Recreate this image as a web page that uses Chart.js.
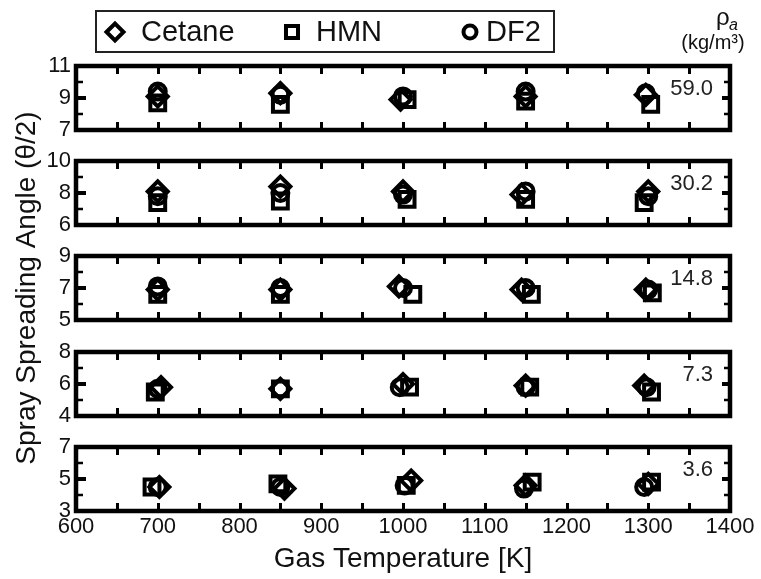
<!DOCTYPE html>
<html>
<head>
<meta charset="utf-8">
<script src="https://cdn.jsdelivr.net/npm/chart.js@4.4.1/dist/chart.umd.min.js"></script>
<style>
  html, body { margin: 0; padding: 0; background: #fff; }
  #wrap { position: relative; width: 761px; height: 579px; overflow: hidden; background: #fff; }
  #wrap canvas { position: absolute; left: 0; top: 0; }
</style>
</head>
<body>
<div id="wrap">
  <canvas id="panel0" width="761" height="579"></canvas>
  <canvas id="panel1" width="761" height="579"></canvas>
  <canvas id="panel2" width="761" height="579"></canvas>
  <canvas id="panel3" width="761" height="579"></canvas>
  <canvas id="panel4" width="761" height="579"></canvas>
</div>
<script>
// ---- data -------------------------------------------------------------
// ambient gas density for each panel, top to bottom (kg/m^3)
const densityLabels = ['59.0', '30.2', '14.8', '7.3', '3.6'];
const angleMin = [7, 6, 5, 4, 3];
const angleMax = [11, 10, 9, 8, 7];
const temperatureTicks = [600, 700, 800, 900, 1000, 1100, 1200, 1300, 1400];
const temperatureMarks = [650, 700, 750, 800, 850, 900, 950, 1000, 1050, 1100, 1150, 1200, 1250, 1300, 1350];

// Cetane
const cetaneTemp = [
  [700, 850, 997, 1150, 1297],
  [700, 850, 1000, 1145, 1300],
  [700, 850, 995, 1145, 1297],
  [704, 850, 1000, 1150, 1295],
  [702, 855, 1010, 1150, 1300]
];
const cetaneAngle = [
  [9.1, 9.3, 8.9, 9.1, 9.2],
  [8.1, 8.4, 8.1, 7.9, 8.1],
  [6.9, 6.9, 7.1, 6.9, 6.9],
  [5.8, 5.7, 6.0, 5.9, 5.9],
  [4.5, 4.4, 4.9, 4.6, 4.7]
];
// HMN
const hmnTemp = [
  [700, 850, 1005, 1150, 1303],
  [700, 850, 1005, 1150, 1295],
  [700, 850, 1012, 1157, 1305],
  [697, 850, 1008, 1155, 1304],
  [693, 847, 1004, 1158, 1304]
];
const hmnAngle = [
  [8.7, 8.6, 8.9, 8.8, 8.6],
  [7.4, 7.5, 7.6, 7.6, 7.4],
  [6.6, 6.6, 6.6, 6.6, 6.7],
  [5.5, 5.7, 5.8, 5.8, 5.5],
  [4.5, 4.7, 4.6, 4.8, 4.8]
];
// DF2
const df2Temp = [
  [700, 850, 1000, 1150, 1297],
  [700, 850, 1000, 1150, 1300],
  [700, 850, 1000, 1150, 1300],
  [700, 850, 996, 1150, 1298],
  [700, 850, 1002, 1148, 1295]
];
const df2Angle = [
  [9.4, 9.2, 9.1, 9.4, 9.3],
  [7.8, 8.0, 7.9, 8.1, 7.8],
  [7.1, 7.0, 7.0, 7.0, 6.9],
  [5.7, 5.7, 5.8, 5.8, 5.8],
  [4.5, 4.5, 4.6, 4.4, 4.5]
];

// ---- layout -----------------------------------------------------------
const W = 761, H = 579;
const PLOT_LEFT = 76, PLOT_RIGHT = 730;
const panelTop = [66, 161, 256, 352, 447];
const PANEL_H = 64;
const FONT = "'Liberation Sans', Arial, Helvetica, sans-serif";
const INK = '#111';

const seriesStyle = [
  { label: 'Cetane', pointStyle: 'rectRot', radius: 10, legendRadius: 8.5 },
  { label: 'HMN', pointStyle: 'rect', radius: 10.5, legendRadius: 8.5 },
  { label: 'DF2', pointStyle: 'circle', radius: 8, legendRadius: 6.5 }
];

function points(xs, ys) {
  return xs.map((x, i) => ({ x: x, y: ys[i] }));
}

// frame, inward tick marks, density tag, and (top panel) legend + unit header
const panelDecor = {
  id: 'panelDecor',
  afterDatasetsDraw(chart, args, opts) {
    const { ctx, chartArea: a, scales: { x, y } } = chart;
    ctx.save();
    ctx.strokeStyle = '#000';
    ctx.lineCap = 'butt';

    // x tick marks, top and bottom, pointing inward
    ctx.lineWidth = 3;
    ctx.beginPath();
    temperatureMarks.forEach(v => {
      const px = Math.round(x.getPixelForValue(v)) + 0.5;
      ctx.moveTo(px, a.top); ctx.lineTo(px, a.top + 8);
      ctx.moveTo(px, a.bottom); ctx.lineTo(px, a.bottom - 8);
    });
    ctx.stroke();

    // y tick marks
    const mid = (y.min + y.max) / 2;
    const yMarks = [y.min + 1, mid, y.max - 1];
    yMarks.forEach(v => {
      const py = Math.round(y.getPixelForValue(v));
      const major = v === mid;
      ctx.lineWidth = major ? 4 : 2.5;
      ctx.beginPath();
      ctx.moveTo(a.left, py); ctx.lineTo(a.left + (major ? 10 : 7), py);
      ctx.moveTo(a.right, py); ctx.lineTo(a.right - (major ? 8 : 6), py);
      ctx.stroke();
    });

    // frame
    ctx.lineWidth = 4.5;
    ctx.strokeRect(a.left, a.top, a.right - a.left, a.bottom - a.top);

    // density tag
    ctx.fillStyle = '#222';
    ctx.font = '22px ' + FONT;
    ctx.textAlign = 'right';
    ctx.textBaseline = 'middle';
    ctx.fillText(opts.tag, a.right - 17, a.top + (a.bottom - a.top) * 0.36);

    if (opts.header) {
      // legend box
      ctx.lineWidth = 2;
      ctx.strokeStyle = '#222';
      ctx.strokeRect(96, 11, 458, 41);
      const items = [
        { mx: 115, tx: 141 },
        { mx: 292, tx: 316 },
        { mx: 470, tx: 486 }
      ];
      chart.data.datasets.forEach((ds, i) => {
        ctx.strokeStyle = '#000';
        ctx.fillStyle = 'rgba(0,0,0,0)';
        ctx.lineWidth = 4;
        Chart.helpers.drawPoint(ctx, {
          pointStyle: ds.pointStyle, rotation: 0,
          radius: seriesStyle[i].legendRadius, borderWidth: 4
        }, items[i].mx, 32);
        ctx.fillStyle = INK;
        ctx.font = '29px ' + FONT;
        ctx.textAlign = 'left';
        ctx.textBaseline = 'middle';
        ctx.fillText(ds.label, items[i].tx, 33);
      });

      // density unit header
      ctx.fillStyle = INK;
      ctx.textAlign = 'left';
      ctx.textBaseline = 'alphabetic';
      ctx.font = '24px ' + FONT;
      ctx.fillText('ρ', 716, 25);
      ctx.font = 'italic 16px ' + FONT;
      ctx.fillText('a', 729, 30);
      ctx.font = '20px ' + FONT;
      ctx.textAlign = 'center';
      ctx.fillText('(kg/m³)', 713, 49);
    }
    ctx.restore();
  }
};

function makePanel(i) {
  const last = i === 4;
  const bottom = panelTop[i] + PANEL_H;
  const xAxisH = 67;
  const datasets = [
    [cetaneTemp, cetaneAngle],
    [hmnTemp, hmnAngle],
    [df2Temp, df2Angle]
  ].map((pair, s) => ({
    label: seriesStyle[s].label,
    data: points(pair[0][i], pair[1][i]),
    pointStyle: seriesStyle[s].pointStyle,
    pointRadius: seriesStyle[s].radius,
    pointHoverRadius: seriesStyle[s].radius,
    pointBorderWidth: 4,
    pointBorderColor: '#000',
    pointBackgroundColor: 'rgba(0,0,0,0)',
    showLine: false
  }));

  return new Chart(document.getElementById('panel' + i), {
    type: 'scatter',
    data: { datasets: datasets },
    plugins: [panelDecor],
    options: {
      responsive: false,
      animation: false,
      devicePixelRatio: 1,
      events: [],
      layout: {
        padding: {
          left: 0,
          right: W - PLOT_RIGHT,
          top: panelTop[i],
          bottom: last ? H - bottom - xAxisH : H - bottom
        }
      },
      plugins: {
        legend: { display: false },
        tooltip: { enabled: false },
        panelDecor: { tag: densityLabels[i], header: i === 0 }
      },
      scales: {
        x: {
          type: 'linear',
          min: 600, max: 1400,
          display: last,
          afterFit: s => { if (last) s.height = xAxisH; },
          afterBuildTicks: s => { s.ticks = temperatureTicks.map(v => ({ value: v })); },
          grid: { display: false, drawTicks: false },
          border: { display: false },
          ticks: {
            autoSkip: false, maxRotation: 0, padding: 3,
            color: INK,
            font: { family: FONT, size: 22 },
            callback: v => String(v)
          },
          title: {
            display: last,
            text: 'Gas Temperature [K]',
            color: INK,
            font: { family: FONT, size: 28 },
            padding: { top: 0, bottom: 2 }
          }
        },
        y: {
          type: 'linear',
          min: angleMin[i], max: angleMax[i],
          afterFit: s => { s.width = PLOT_LEFT; },
          afterBuildTicks: s => {
            s.ticks = [angleMin[i], (angleMin[i] + angleMax[i]) / 2, angleMax[i]].map(v => ({ value: v }));
          },
          grid: { display: false, drawTicks: false },
          border: { display: false },
          ticks: {
            padding: 5,
            color: INK,
            font: { family: FONT, size: 22 },
            callback: v => String(v)
          },
          title: {
            display: i === 2,
            text: 'Spray Spreading Angle (θ/2)',
            color: INK,
            font: { family: FONT, size: 28 },
            padding: { top: 10, bottom: 0 }
          }
        }
      }
    }
  });
}

for (let i = 0; i < 5; i++) makePanel(i);
</script>
</body>
</html>
